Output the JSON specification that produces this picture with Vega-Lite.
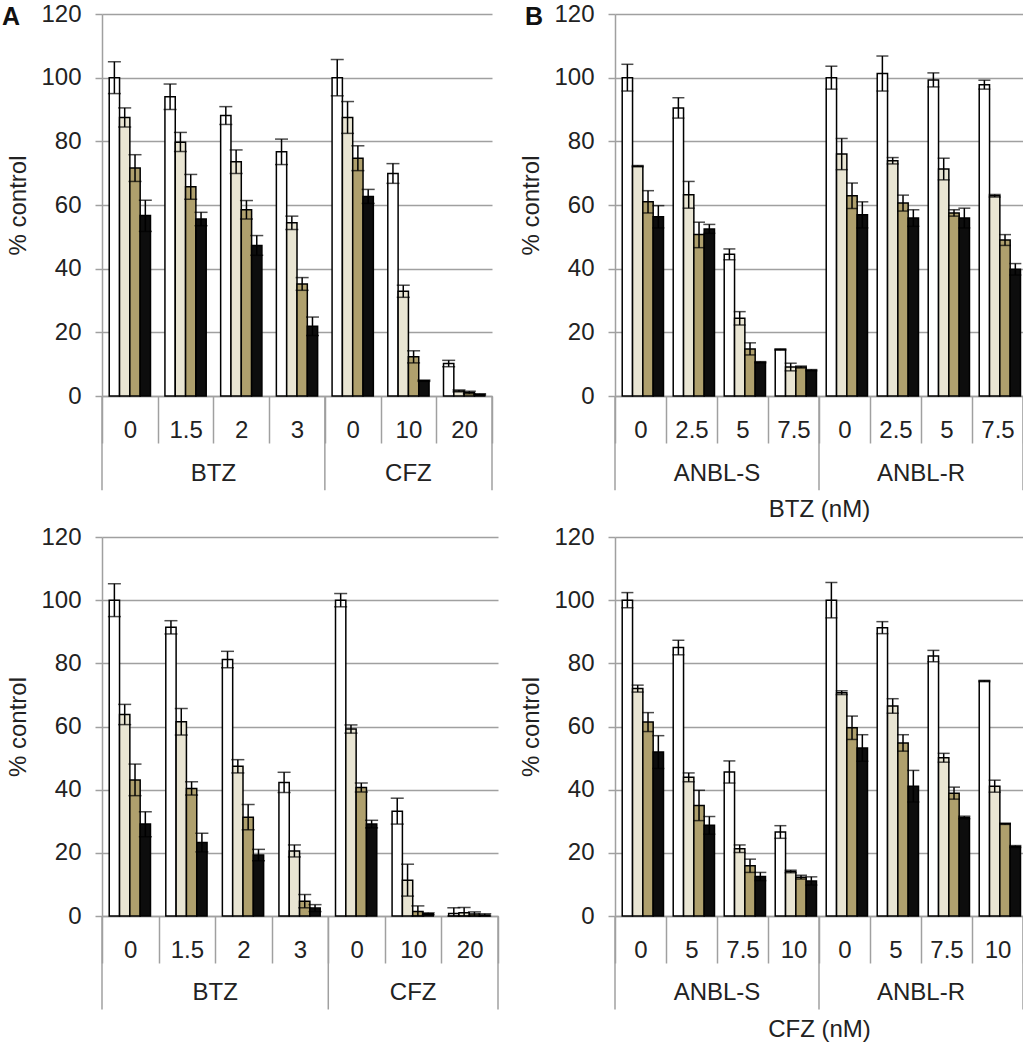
{
  "$schema": "https://vega.github.io/schema/vega-lite/v6.json",
  "padding": {"left": 2, "top": 2, "right": 0, "bottom": 0},
  "background": "#ffffff",
  "config": {
    "font": "Liberation Sans",
    "view": {"stroke": null},
    "axis": {"labelFont": "Liberation Sans", "titleFont": "Liberation Sans", "labelColor": "#222222", "titleColor": "#222222"}
  },
  "datasets": {
    "tl": [
      {"cat":"BTZ|0","drug":"BTZ","dose":"0","s":"1","v":100,"lo":95,"hi":105},
      {"cat":"BTZ|0","drug":"BTZ","dose":"0","s":"2","v":87.5,"lo":84.5,"hi":90.5},
      {"cat":"BTZ|0","drug":"BTZ","dose":"0","s":"3","v":71.6,"lo":67.4,"hi":75.8},
      {"cat":"BTZ|0","drug":"BTZ","dose":"0","s":"4","v":56.7,"lo":51.7,"hi":61.5},
      {"cat":"BTZ|1.5","drug":"BTZ","dose":"1.5","s":"1","v":94,"lo":90,"hi":98},
      {"cat":"BTZ|1.5","drug":"BTZ","dose":"1.5","s":"2","v":79.7,"lo":76.8,"hi":82.8},
      {"cat":"BTZ|1.5","drug":"BTZ","dose":"1.5","s":"3","v":65.7,"lo":61.8,"hi":69.6},
      {"cat":"BTZ|1.5","drug":"BTZ","dose":"1.5","s":"4","v":55.6,"lo":53.5,"hi":57.7},
      {"cat":"BTZ|2","drug":"BTZ","dose":"2","s":"1","v":88.1,"lo":85.3,"hi":90.9},
      {"cat":"BTZ|2","drug":"BTZ","dose":"2","s":"2","v":73.6,"lo":69.9,"hi":77.3},
      {"cat":"BTZ|2","drug":"BTZ","dose":"2","s":"3","v":58.5,"lo":55.6,"hi":61.4},
      {"cat":"BTZ|2","drug":"BTZ","dose":"2","s":"4","v":47.3,"lo":44.2,"hi":50.4},
      {"cat":"BTZ|3","drug":"BTZ","dose":"3","s":"1","v":76.7,"lo":72.7,"hi":80.7},
      {"cat":"BTZ|3","drug":"BTZ","dose":"3","s":"2","v":54.4,"lo":52.3,"hi":56.5},
      {"cat":"BTZ|3","drug":"BTZ","dose":"3","s":"3","v":35.2,"lo":33.2,"hi":37.2},
      {"cat":"BTZ|3","drug":"BTZ","dose":"3","s":"4","v":21.9,"lo":19,"hi":24.8},
      {"cat":"CFZ|0","drug":"CFZ","dose":"0","s":"1","v":100,"lo":94.3,"hi":105.7},
      {"cat":"CFZ|0","drug":"CFZ","dose":"0","s":"2","v":87.5,"lo":82.5,"hi":92.5},
      {"cat":"CFZ|0","drug":"CFZ","dose":"0","s":"3","v":74.7,"lo":70.8,"hi":78.6},
      {"cat":"CFZ|0","drug":"CFZ","dose":"0","s":"4","v":62.7,"lo":60.5,"hi":64.9},
      {"cat":"CFZ|10","drug":"CFZ","dose":"10","s":"1","v":69.9,"lo":66.8,"hi":73},
      {"cat":"CFZ|10","drug":"CFZ","dose":"10","s":"2","v":32.9,"lo":31,"hi":34.8},
      {"cat":"CFZ|10","drug":"CFZ","dose":"10","s":"3","v":12.3,"lo":10.4,"hi":14.2},
      {"cat":"CFZ|10","drug":"CFZ","dose":"10","s":"4","v":4.8,"lo":4.6,"hi":5},
      {"cat":"CFZ|20","drug":"CFZ","dose":"20","s":"1","v":10.2,"lo":9.2,"hi":11.2},
      {"cat":"CFZ|20","drug":"CFZ","dose":"20","s":"2","v":1.6,"lo":1.3,"hi":1.9},
      {"cat":"CFZ|20","drug":"CFZ","dose":"20","s":"3","v":1.1,"lo":0.7,"hi":1.5},
      {"cat":"CFZ|20","drug":"CFZ","dose":"20","s":"4","v":0.5,"lo":0.3,"hi":0.7}
    ],
    "tr": [
      {"cat":"ANBL-S|0","drug":"ANBL-S","dose":"0","s":"1","v":100,"lo":95.8,"hi":104.2},
      {"cat":"ANBL-S|0","drug":"ANBL-S","dose":"0","s":"2","v":72.2,"lo":72,"hi":72.4},
      {"cat":"ANBL-S|0","drug":"ANBL-S","dose":"0","s":"3","v":61,"lo":57.5,"hi":64.5},
      {"cat":"ANBL-S|0","drug":"ANBL-S","dose":"0","s":"4","v":56.3,"lo":52.8,"hi":59.8},
      {"cat":"ANBL-S|2.5","drug":"ANBL-S","dose":"2.5","s":"1","v":90.5,"lo":87.3,"hi":93.7},
      {"cat":"ANBL-S|2.5","drug":"ANBL-S","dose":"2.5","s":"2","v":63.2,"lo":59,"hi":67.4},
      {"cat":"ANBL-S|2.5","drug":"ANBL-S","dose":"2.5","s":"3","v":50.7,"lo":46.6,"hi":54.6},
      {"cat":"ANBL-S|2.5","drug":"ANBL-S","dose":"2.5","s":"4","v":52.5,"lo":51.1,"hi":53.9},
      {"cat":"ANBL-S|5","drug":"ANBL-S","dose":"5","s":"1","v":44.5,"lo":42.8,"hi":46.2},
      {"cat":"ANBL-S|5","drug":"ANBL-S","dose":"5","s":"2","v":24.4,"lo":22.3,"hi":26.5},
      {"cat":"ANBL-S|5","drug":"ANBL-S","dose":"5","s":"3","v":14.8,"lo":12.9,"hi":16.7},
      {"cat":"ANBL-S|5","drug":"ANBL-S","dose":"5","s":"4","v":10.6,"lo":10.4,"hi":10.8},
      {"cat":"ANBL-S|7.5","drug":"ANBL-S","dose":"7.5","s":"1","v":14.6,"lo":14.4,"hi":14.8},
      {"cat":"ANBL-S|7.5","drug":"ANBL-S","dose":"7.5","s":"2","v":9.1,"lo":7.9,"hi":10.3},
      {"cat":"ANBL-S|7.5","drug":"ANBL-S","dose":"7.5","s":"3","v":9.1,"lo":8.8,"hi":9.4},
      {"cat":"ANBL-S|7.5","drug":"ANBL-S","dose":"7.5","s":"4","v":8.1,"lo":7.9,"hi":8.3},
      {"cat":"ANBL-R|0","drug":"ANBL-R","dose":"0","s":"1","v":100,"lo":96.4,"hi":103.6},
      {"cat":"ANBL-R|0","drug":"ANBL-R","dose":"0","s":"2","v":76,"lo":71.1,"hi":80.9},
      {"cat":"ANBL-R|0","drug":"ANBL-R","dose":"0","s":"3","v":62.9,"lo":58.9,"hi":66.9},
      {"cat":"ANBL-R|0","drug":"ANBL-R","dose":"0","s":"4","v":56.9,"lo":52.8,"hi":61},
      {"cat":"ANBL-R|2.5","drug":"ANBL-R","dose":"2.5","s":"1","v":101.3,"lo":95.8,"hi":106.8},
      {"cat":"ANBL-R|2.5","drug":"ANBL-R","dose":"2.5","s":"2","v":73.9,"lo":72.9,"hi":74.9},
      {"cat":"ANBL-R|2.5","drug":"ANBL-R","dose":"2.5","s":"3","v":60.6,"lo":58.1,"hi":63.1},
      {"cat":"ANBL-R|2.5","drug":"ANBL-R","dose":"2.5","s":"4","v":55.9,"lo":53.3,"hi":58.5},
      {"cat":"ANBL-R|5","drug":"ANBL-R","dose":"5","s":"1","v":99.3,"lo":97.1,"hi":101.5},
      {"cat":"ANBL-R|5","drug":"ANBL-R","dose":"5","s":"2","v":71.3,"lo":67.9,"hi":74.7},
      {"cat":"ANBL-R|5","drug":"ANBL-R","dose":"5","s":"3","v":57.5,"lo":56.5,"hi":58.5},
      {"cat":"ANBL-R|5","drug":"ANBL-R","dose":"5","s":"4","v":55.9,"lo":52.8,"hi":59},
      {"cat":"ANBL-R|7.5","drug":"ANBL-R","dose":"7.5","s":"1","v":97.8,"lo":96.4,"hi":99.2},
      {"cat":"ANBL-R|7.5","drug":"ANBL-R","dose":"7.5","s":"2","v":62.9,"lo":62.5,"hi":63.3},
      {"cat":"ANBL-R|7.5","drug":"ANBL-R","dose":"7.5","s":"3","v":49,"lo":47.3,"hi":50.7},
      {"cat":"ANBL-R|7.5","drug":"ANBL-R","dose":"7.5","s":"4","v":39.8,"lo":38,"hi":41.6}
    ],
    "bl": [
      {"cat":"BTZ|0","drug":"BTZ","dose":"0","s":"1","v":100,"lo":94.8,"hi":105.2},
      {"cat":"BTZ|0","drug":"BTZ","dose":"0","s":"2","v":63.8,"lo":60.6,"hi":67},
      {"cat":"BTZ|0","drug":"BTZ","dose":"0","s":"3","v":43.1,"lo":38.1,"hi":48.1},
      {"cat":"BTZ|0","drug":"BTZ","dose":"0","s":"4","v":29.1,"lo":25.1,"hi":33},
      {"cat":"BTZ|1.5","drug":"BTZ","dose":"1.5","s":"1","v":91.4,"lo":89.3,"hi":93.5},
      {"cat":"BTZ|1.5","drug":"BTZ","dose":"1.5","s":"2","v":61.5,"lo":57.3,"hi":65.7},
      {"cat":"BTZ|1.5","drug":"BTZ","dose":"1.5","s":"3","v":40.4,"lo":38.3,"hi":42.5},
      {"cat":"BTZ|1.5","drug":"BTZ","dose":"1.5","s":"4","v":23.3,"lo":20.3,"hi":26.2},
      {"cat":"BTZ|2","drug":"BTZ","dose":"2","s":"1","v":81.2,"lo":78.6,"hi":83.8},
      {"cat":"BTZ|2","drug":"BTZ","dose":"2","s":"2","v":47.4,"lo":45.3,"hi":49.5},
      {"cat":"BTZ|2","drug":"BTZ","dose":"2","s":"3","v":31.3,"lo":27.3,"hi":35.3},
      {"cat":"BTZ|2","drug":"BTZ","dose":"2","s":"4","v":19.3,"lo":17.5,"hi":21.1},
      {"cat":"BTZ|3","drug":"BTZ","dose":"3","s":"1","v":42.3,"lo":39.1,"hi":45.5},
      {"cat":"BTZ|3","drug":"BTZ","dose":"3","s":"2","v":20.6,"lo":18.7,"hi":22.5},
      {"cat":"BTZ|3","drug":"BTZ","dose":"3","s":"3","v":4.7,"lo":2.6,"hi":6.8},
      {"cat":"BTZ|3","drug":"BTZ","dose":"3","s":"4","v":2.5,"lo":1.4,"hi":3.6},
      {"cat":"CFZ|0","drug":"CFZ","dose":"0","s":"1","v":100,"lo":97.9,"hi":102.1},
      {"cat":"CFZ|0","drug":"CFZ","dose":"0","s":"2","v":59.2,"lo":57.9,"hi":60.5},
      {"cat":"CFZ|0","drug":"CFZ","dose":"0","s":"3","v":40.7,"lo":39.3,"hi":42.1},
      {"cat":"CFZ|0","drug":"CFZ","dose":"0","s":"4","v":29.1,"lo":27.9,"hi":30.3},
      {"cat":"CFZ|10","drug":"CFZ","dose":"10","s":"1","v":33.2,"lo":29.1,"hi":37.3},
      {"cat":"CFZ|10","drug":"CFZ","dose":"10","s":"2","v":11.3,"lo":6.3,"hi":16.4},
      {"cat":"CFZ|10","drug":"CFZ","dose":"10","s":"3","v":1.4,"lo":0,"hi":3.2},
      {"cat":"CFZ|10","drug":"CFZ","dose":"10","s":"4","v":0.7,"lo":0.4,"hi":1},
      {"cat":"CFZ|20","drug":"CFZ","dose":"20","s":"1","v":0.8,"lo":0,"hi":2.6},
      {"cat":"CFZ|20","drug":"CFZ","dose":"20","s":"2","v":1,"lo":0,"hi":2.7},
      {"cat":"CFZ|20","drug":"CFZ","dose":"20","s":"3","v":0.6,"lo":0,"hi":1.3},
      {"cat":"CFZ|20","drug":"CFZ","dose":"20","s":"4","v":0.3,"lo":0,"hi":0.7}
    ],
    "br": [
      {"cat":"ANBL-S|0","drug":"ANBL-S","dose":"0","s":"1","v":100,"lo":97.6,"hi":102.4},
      {"cat":"ANBL-S|0","drug":"ANBL-S","dose":"0","s":"2","v":72,"lo":70.9,"hi":73.1},
      {"cat":"ANBL-S|0","drug":"ANBL-S","dose":"0","s":"3","v":61.4,"lo":58.4,"hi":64.4},
      {"cat":"ANBL-S|0","drug":"ANBL-S","dose":"0","s":"4","v":51.9,"lo":46.7,"hi":57.1},
      {"cat":"ANBL-S|5","drug":"ANBL-S","dose":"5","s":"1","v":85,"lo":82.7,"hi":87.3},
      {"cat":"ANBL-S|5","drug":"ANBL-S","dose":"5","s":"2","v":43.9,"lo":42.5,"hi":45.3},
      {"cat":"ANBL-S|5","drug":"ANBL-S","dose":"5","s":"3","v":35,"lo":30.2,"hi":39.8},
      {"cat":"ANBL-S|5","drug":"ANBL-S","dose":"5","s":"4","v":28.7,"lo":25.9,"hi":31.5},
      {"cat":"ANBL-S|7.5","drug":"ANBL-S","dose":"7.5","s":"1","v":45.6,"lo":42.1,"hi":49.1},
      {"cat":"ANBL-S|7.5","drug":"ANBL-S","dose":"7.5","s":"2","v":21.3,"lo":20.1,"hi":22.5},
      {"cat":"ANBL-S|7.5","drug":"ANBL-S","dose":"7.5","s":"3","v":15.9,"lo":13.8,"hi":18},
      {"cat":"ANBL-S|7.5","drug":"ANBL-S","dose":"7.5","s":"4","v":12.5,"lo":11.2,"hi":13.8},
      {"cat":"ANBL-S|10","drug":"ANBL-S","dose":"10","s":"1","v":26.6,"lo":24.6,"hi":28.6},
      {"cat":"ANBL-S|10","drug":"ANBL-S","dose":"10","s":"2","v":14.1,"lo":13.7,"hi":14.5},
      {"cat":"ANBL-S|10","drug":"ANBL-S","dose":"10","s":"3","v":12.3,"lo":11.7,"hi":12.9},
      {"cat":"ANBL-S|10","drug":"ANBL-S","dose":"10","s":"4","v":11.1,"lo":9.8,"hi":12.4},
      {"cat":"ANBL-R|0","drug":"ANBL-R","dose":"0","s":"1","v":100,"lo":94.4,"hi":105.6},
      {"cat":"ANBL-R|0","drug":"ANBL-R","dose":"0","s":"2","v":70.7,"lo":70.1,"hi":71.3},
      {"cat":"ANBL-R|0","drug":"ANBL-R","dose":"0","s":"3","v":59.6,"lo":55.9,"hi":63.3},
      {"cat":"ANBL-R|0","drug":"ANBL-R","dose":"0","s":"4","v":53.2,"lo":49,"hi":57.4},
      {"cat":"ANBL-R|5","drug":"ANBL-R","dose":"5","s":"1","v":91.3,"lo":89.4,"hi":93.2},
      {"cat":"ANBL-R|5","drug":"ANBL-R","dose":"5","s":"2","v":66.5,"lo":64.2,"hi":68.8},
      {"cat":"ANBL-R|5","drug":"ANBL-R","dose":"5","s":"3","v":54.8,"lo":52.2,"hi":57.4},
      {"cat":"ANBL-R|5","drug":"ANBL-R","dose":"5","s":"4","v":41.1,"lo":36.1,"hi":46.1},
      {"cat":"ANBL-R|7.5","drug":"ANBL-R","dose":"7.5","s":"1","v":82.3,"lo":80.5,"hi":84.1},
      {"cat":"ANBL-R|7.5","drug":"ANBL-R","dose":"7.5","s":"2","v":50.1,"lo":48.7,"hi":51.5},
      {"cat":"ANBL-R|7.5","drug":"ANBL-R","dose":"7.5","s":"3","v":38.9,"lo":37,"hi":40.8},
      {"cat":"ANBL-R|7.5","drug":"ANBL-R","dose":"7.5","s":"4","v":31.2,"lo":30.8,"hi":31.6},
      {"cat":"ANBL-R|10","drug":"ANBL-R","dose":"10","s":"1","v":74.4,"lo":74.2,"hi":74.6},
      {"cat":"ANBL-R|10","drug":"ANBL-R","dose":"10","s":"2","v":41.1,"lo":39.2,"hi":43},
      {"cat":"ANBL-R|10","drug":"ANBL-R","dose":"10","s":"3","v":29.2,"lo":29,"hi":29.4},
      {"cat":"ANBL-R|10","drug":"ANBL-R","dose":"10","s":"4","v":22,"lo":21.7,"hi":22.3}
    ]
  },
  "columns": 2,
  "bounds": "flush",
  "spacing": {"row": 141, "column": 117},
  "concat": [
    {
      "width": 390, "height": 382,
      "data": {"name": "tl"},
      "title": {"text": "A", "anchor": "start", "frame": "group", "dx": -100, "dy": 38, "offset": -10, "baseline": "alphabetic", "fontSize": 25, "fontWeight": "bold", "color": "#111111"},
      "layer": [
        {"mark": {"type": "bar", "stroke": "#000000", "strokeWidth": 1.5},
         "encoding": {
           "x": {"field": "cat", "type": "nominal", "sort": null, "scale": {"paddingInner": 0, "paddingOuter": 0},
                 "axis": {"title": null, "labelExpr": "split(datum.label, '|')[1]", "labelAngle": 0, "labelFontSize": 24, "labelPadding": -25, "tickBand": "extent", "tickSize": 47, "tickColor": "#a0a0a0", "tickWidth": 1.5, "domainColor": "#a0a0a0", "domainWidth": 1.5, "grid": false}},
           "xOffset": {"field": "s", "type": "nominal", "scale": {"paddingInner": 0, "paddingOuter": 0.7}},
           "y": {"field": "v", "type": "quantitative", "scale": {"domain": [0, 120]},
                 "axis": {"title": "% control", "values": [0, 20, 40, 60, 80, 100, 120], "grid": true, "gridColor": "#a0a0a0", "gridWidth": 1.5, "domainColor": "#a0a0a0", "domainWidth": 1.5, "tickColor": "#a0a0a0", "tickWidth": 1.5, "tickSize": 7, "labelFontSize": 24, "labelPadding": 14, "titleFontSize": 24, "titleFontWeight": "normal", "titlePadding": 10}},
           "color": {"field": "s", "type": "nominal", "scale": {"domain": ["1", "2", "3", "4"], "range": ["#ffffff", "#e9e5d3", "#afa06d", "#0d0d0d"]}, "legend": null}
         }},
        {"mark": {"type": "rule", "color": "#000000", "strokeWidth": 1.5},
         "encoding": {"x": {"field": "cat", "type": "nominal", "sort": null}, "xOffset": {"field": "s", "type": "nominal"}, "y": {"field": "lo", "type": "quantitative"}, "y2": {"field": "hi"}}},
        {"mark": {"type": "tick", "orient": "horizontal", "size": 13, "thickness": 1.5, "color": "#000000"},
         "encoding": {"x": {"field": "cat", "type": "nominal", "sort": null}, "xOffset": {"field": "s", "type": "nominal"}, "y": {"field": "lo", "type": "quantitative"}}},
        {"mark": {"type": "tick", "orient": "horizontal", "size": 13, "thickness": 1.5, "color": "#000000"},
         "encoding": {"x": {"field": "cat", "type": "nominal", "sort": null}, "xOffset": {"field": "s", "type": "nominal"}, "y": {"field": "hi", "type": "quantitative"}}},
        {"transform": [{"filter": "datum.dose == '0' && datum.s == '1'"}],
         "mark": {"type": "rule", "color": "#a0a0a0", "strokeWidth": 1.5},
         "encoding": {"x": {"field": "cat", "type": "nominal", "sort": null, "bandPosition": 0}, "y": {"datum": 0}, "y2": {"datum": -29.6}}},
        {"transform": [{"filter": "datum.cat == 'CFZ|20' && datum.s == '1'"}],
         "mark": {"type": "rule", "color": "#a0a0a0", "strokeWidth": 1.5},
         "encoding": {"x": {"field": "cat", "type": "nominal", "sort": null, "bandPosition": 1}, "y": {"datum": 0}, "y2": {"datum": -29.6}}},
        {"transform": [{"filter": "datum.cat == 'BTZ|2' && datum.s == '1'"}],
         "mark": {"type": "text", "fontSize": 24, "color": "#222222", "baseline": "middle"},
         "encoding": {"x": {"field": "cat", "type": "nominal", "sort": null, "bandPosition": 0}, "y": {"datum": -24.5}, "text": {"field": "drug"}}},
        {"transform": [{"filter": "datum.cat == 'CFZ|10' && datum.s == '1'"}],
         "mark": {"type": "text", "fontSize": 24, "color": "#222222", "baseline": "middle"},
         "encoding": {"x": {"field": "cat", "type": "nominal", "sort": null, "bandPosition": 0.5}, "y": {"datum": -24.5}, "text": {"field": "drug"}}}
      ]
    },
    {
      "width": 408, "height": 382,
      "data": {"name": "tr"},
      "title": {"text": "B", "anchor": "start", "frame": "group", "dx": -90, "dy": 38, "offset": -10, "baseline": "alphabetic", "fontSize": 25, "fontWeight": "bold", "color": "#111111"},
      "layer": [
        {"mark": {"type": "bar", "stroke": "#000000", "strokeWidth": 1.5},
         "encoding": {
           "x": {"field": "cat", "type": "nominal", "sort": null, "scale": {"paddingInner": 0, "paddingOuter": 0},
                 "axis": {"title": "BTZ (nM)", "titleFontSize": 24, "titleFontWeight": "normal", "titlePadding": 54, "labelExpr": "split(datum.label, '|')[1]", "labelAngle": 0, "labelFontSize": 24, "labelPadding": -25, "tickBand": "extent", "tickSize": 47, "tickColor": "#a0a0a0", "tickWidth": 1.5, "domainColor": "#a0a0a0", "domainWidth": 1.5, "grid": false}},
           "xOffset": {"field": "s", "type": "nominal", "scale": {"paddingInner": 0, "paddingOuter": 0.65}},
           "y": {"field": "v", "type": "quantitative", "scale": {"domain": [0, 120]},
                 "axis": {"title": "% control", "values": [0, 20, 40, 60, 80, 100, 120], "grid": true, "gridColor": "#a0a0a0", "gridWidth": 1.5, "domainColor": "#a0a0a0", "domainWidth": 1.5, "tickColor": "#a0a0a0", "tickWidth": 1.5, "tickSize": 7, "labelFontSize": 24, "labelPadding": 14, "titleFontSize": 24, "titleFontWeight": "normal", "titlePadding": 10}},
           "color": {"field": "s", "type": "nominal", "scale": {"domain": ["1", "2", "3", "4"], "range": ["#ffffff", "#e9e5d3", "#afa06d", "#0d0d0d"]}, "legend": null}
         }},
        {"mark": {"type": "rule", "color": "#000000", "strokeWidth": 1.5},
         "encoding": {"x": {"field": "cat", "type": "nominal", "sort": null}, "xOffset": {"field": "s", "type": "nominal"}, "y": {"field": "lo", "type": "quantitative"}, "y2": {"field": "hi"}}},
        {"mark": {"type": "tick", "orient": "horizontal", "size": 12, "thickness": 1.5, "color": "#000000"},
         "encoding": {"x": {"field": "cat", "type": "nominal", "sort": null}, "xOffset": {"field": "s", "type": "nominal"}, "y": {"field": "lo", "type": "quantitative"}}},
        {"mark": {"type": "tick", "orient": "horizontal", "size": 12, "thickness": 1.5, "color": "#000000"},
         "encoding": {"x": {"field": "cat", "type": "nominal", "sort": null}, "xOffset": {"field": "s", "type": "nominal"}, "y": {"field": "hi", "type": "quantitative"}}},
        {"transform": [{"filter": "datum.dose == '0' && datum.s == '1'"}],
         "mark": {"type": "rule", "color": "#a0a0a0", "strokeWidth": 1.5},
         "encoding": {"x": {"field": "cat", "type": "nominal", "sort": null, "bandPosition": 0}, "y": {"datum": 0}, "y2": {"datum": -29.6}}},
        {"transform": [{"filter": "datum.cat == 'ANBL-R|7.5' && datum.s == '1'"}],
         "mark": {"type": "rule", "color": "#a0a0a0", "strokeWidth": 1.5},
         "encoding": {"x": {"field": "cat", "type": "nominal", "sort": null, "bandPosition": 1}, "y": {"datum": 0}, "y2": {"datum": -29.6}}},
        {"transform": [{"filter": "datum.dose == '5' && datum.s == '1'"}],
         "mark": {"type": "text", "fontSize": 24, "color": "#222222", "baseline": "middle"},
         "encoding": {"x": {"field": "cat", "type": "nominal", "sort": null, "bandPosition": 0}, "y": {"datum": -24.5}, "text": {"field": "drug"}}}
      ]
    },
    {
      "width": 396, "height": 379,
      "data": {"name": "bl"},
      "layer": [
        {"mark": {"type": "bar", "stroke": "#000000", "strokeWidth": 1.5},
         "encoding": {
           "x": {"field": "cat", "type": "nominal", "sort": null, "scale": {"paddingInner": 0, "paddingOuter": 0},
                 "axis": {"title": null, "labelExpr": "split(datum.label, '|')[1]", "labelAngle": 0, "labelFontSize": 24, "labelPadding": -25, "tickBand": "extent", "tickSize": 47, "tickColor": "#a0a0a0", "tickWidth": 1.5, "domainColor": "#a0a0a0", "domainWidth": 1.5, "grid": false}},
           "xOffset": {"field": "s", "type": "nominal", "scale": {"paddingInner": 0, "paddingOuter": 0.7}},
           "y": {"field": "v", "type": "quantitative", "scale": {"domain": [0, 120]},
                 "axis": {"title": "% control", "values": [0, 20, 40, 60, 80, 100, 120], "grid": true, "gridColor": "#a0a0a0", "gridWidth": 1.5, "domainColor": "#a0a0a0", "domainWidth": 1.5, "tickColor": "#a0a0a0", "tickWidth": 1.5, "tickSize": 7, "labelFontSize": 24, "labelPadding": 14, "titleFontSize": 24, "titleFontWeight": "normal", "titlePadding": 10}},
           "color": {"field": "s", "type": "nominal", "scale": {"domain": ["1", "2", "3", "4"], "range": ["#ffffff", "#e9e5d3", "#afa06d", "#0d0d0d"]}, "legend": null}
         }},
        {"mark": {"type": "rule", "color": "#000000", "strokeWidth": 1.5},
         "encoding": {"x": {"field": "cat", "type": "nominal", "sort": null}, "xOffset": {"field": "s", "type": "nominal"}, "y": {"field": "lo", "type": "quantitative"}, "y2": {"field": "hi"}}},
        {"mark": {"type": "tick", "orient": "horizontal", "size": 13, "thickness": 1.5, "color": "#000000"},
         "encoding": {"x": {"field": "cat", "type": "nominal", "sort": null}, "xOffset": {"field": "s", "type": "nominal"}, "y": {"field": "lo", "type": "quantitative"}}},
        {"mark": {"type": "tick", "orient": "horizontal", "size": 13, "thickness": 1.5, "color": "#000000"},
         "encoding": {"x": {"field": "cat", "type": "nominal", "sort": null}, "xOffset": {"field": "s", "type": "nominal"}, "y": {"field": "hi", "type": "quantitative"}}},
        {"transform": [{"filter": "datum.dose == '0' && datum.s == '1'"}],
         "mark": {"type": "rule", "color": "#a0a0a0", "strokeWidth": 1.5},
         "encoding": {"x": {"field": "cat", "type": "nominal", "sort": null, "bandPosition": 0}, "y": {"datum": 0}, "y2": {"datum": -29.6}}},
        {"transform": [{"filter": "datum.cat == 'CFZ|20' && datum.s == '1'"}],
         "mark": {"type": "rule", "color": "#a0a0a0", "strokeWidth": 1.5},
         "encoding": {"x": {"field": "cat", "type": "nominal", "sort": null, "bandPosition": 1}, "y": {"datum": 0}, "y2": {"datum": -29.6}}},
        {"transform": [{"filter": "datum.cat == 'BTZ|2' && datum.s == '1'"}],
         "mark": {"type": "text", "fontSize": 24, "color": "#222222", "baseline": "middle"},
         "encoding": {"x": {"field": "cat", "type": "nominal", "sort": null, "bandPosition": 0}, "y": {"datum": -24.5}, "text": {"field": "drug"}}},
        {"transform": [{"filter": "datum.cat == 'CFZ|10' && datum.s == '1'"}],
         "mark": {"type": "text", "fontSize": 24, "color": "#222222", "baseline": "middle"},
         "encoding": {"x": {"field": "cat", "type": "nominal", "sort": null, "bandPosition": 0.5}, "y": {"datum": -24.5}, "text": {"field": "drug"}}}
      ]
    },
    {
      "width": 408, "height": 379,
      "data": {"name": "br"},
      "layer": [
        {"mark": {"type": "bar", "stroke": "#000000", "strokeWidth": 1.5},
         "encoding": {
           "x": {"field": "cat", "type": "nominal", "sort": null, "scale": {"paddingInner": 0, "paddingOuter": 0},
                 "axis": {"title": "CFZ (nM)", "titleFontSize": 24, "titleFontWeight": "normal", "titlePadding": 54, "labelExpr": "split(datum.label, '|')[1]", "labelAngle": 0, "labelFontSize": 24, "labelPadding": -25, "tickBand": "extent", "tickSize": 47, "tickColor": "#a0a0a0", "tickWidth": 1.5, "domainColor": "#a0a0a0", "domainWidth": 1.5, "grid": false}},
           "xOffset": {"field": "s", "type": "nominal", "scale": {"paddingInner": 0, "paddingOuter": 0.65}},
           "y": {"field": "v", "type": "quantitative", "scale": {"domain": [0, 120]},
                 "axis": {"title": "% control", "values": [0, 20, 40, 60, 80, 100, 120], "grid": true, "gridColor": "#a0a0a0", "gridWidth": 1.5, "domainColor": "#a0a0a0", "domainWidth": 1.5, "tickColor": "#a0a0a0", "tickWidth": 1.5, "tickSize": 7, "labelFontSize": 24, "labelPadding": 14, "titleFontSize": 24, "titleFontWeight": "normal", "titlePadding": 10}},
           "color": {"field": "s", "type": "nominal", "scale": {"domain": ["1", "2", "3", "4"], "range": ["#ffffff", "#e9e5d3", "#afa06d", "#0d0d0d"]}, "legend": null}
         }},
        {"mark": {"type": "rule", "color": "#000000", "strokeWidth": 1.5},
         "encoding": {"x": {"field": "cat", "type": "nominal", "sort": null}, "xOffset": {"field": "s", "type": "nominal"}, "y": {"field": "lo", "type": "quantitative"}, "y2": {"field": "hi"}}},
        {"mark": {"type": "tick", "orient": "horizontal", "size": 12, "thickness": 1.5, "color": "#000000"},
         "encoding": {"x": {"field": "cat", "type": "nominal", "sort": null}, "xOffset": {"field": "s", "type": "nominal"}, "y": {"field": "lo", "type": "quantitative"}}},
        {"mark": {"type": "tick", "orient": "horizontal", "size": 12, "thickness": 1.5, "color": "#000000"},
         "encoding": {"x": {"field": "cat", "type": "nominal", "sort": null}, "xOffset": {"field": "s", "type": "nominal"}, "y": {"field": "hi", "type": "quantitative"}}},
        {"transform": [{"filter": "datum.dose == '0' && datum.s == '1'"}],
         "mark": {"type": "rule", "color": "#a0a0a0", "strokeWidth": 1.5},
         "encoding": {"x": {"field": "cat", "type": "nominal", "sort": null, "bandPosition": 0}, "y": {"datum": 0}, "y2": {"datum": -29.6}}},
        {"transform": [{"filter": "datum.cat == 'ANBL-R|10' && datum.s == '1'"}],
         "mark": {"type": "rule", "color": "#a0a0a0", "strokeWidth": 1.5},
         "encoding": {"x": {"field": "cat", "type": "nominal", "sort": null, "bandPosition": 1}, "y": {"datum": 0}, "y2": {"datum": -29.6}}},
        {"transform": [{"filter": "datum.dose == '7.5' && datum.s == '1'"}],
         "mark": {"type": "text", "fontSize": 24, "color": "#222222", "baseline": "middle"},
         "encoding": {"x": {"field": "cat", "type": "nominal", "sort": null, "bandPosition": 0}, "y": {"datum": -24.5}, "text": {"field": "drug"}}}
      ]
    }
  ]
}
